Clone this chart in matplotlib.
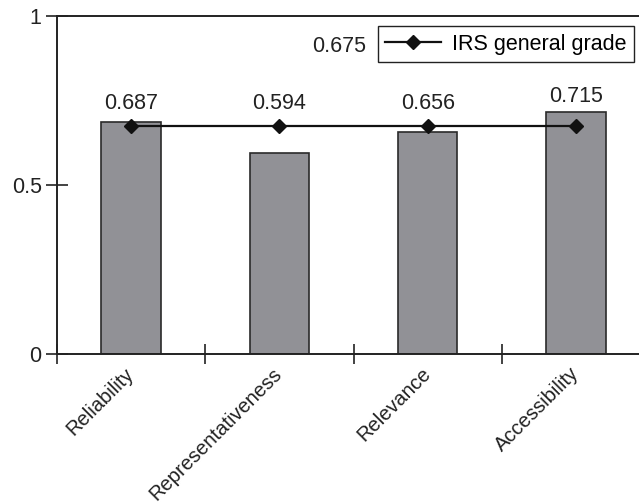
import matplotlib.pyplot as plt
import numpy as np

plt.rcParams['font.family'] = ['Liberation Sans', 'DejaVu Sans']

categories = ['Reliability', 'Representativeness', 'Relevance', 'Accessibility']
scores = [0.687, 0.594, 0.656, 0.715]
general_grade = 0.675
y_ticks = [0, 0.5, 1]
y_tick_labels = ['0', '0.5', '1']

fig = plt.figure(figsize=(6.39, 5.04), dpi=100)
# axes run a little past the right edge, so the right border is cut off
ax = fig.add_axes([57 / 639, 150 / 504, 593 / 639, 338 / 504])

x = np.arange(len(categories))
ax.bar(x, scores, width=0.4, color='#919196', edgecolor='#2a2a2a', linewidth=1.2, zorder=2)
ax.plot(x, [general_grade] * len(categories), color='#111111', lw=1.6,
        marker='D', markersize=7, markerfacecolor='#111111', zorder=3,
        label='IRS general grade')

for xi, v in zip(x, scores):
    ax.text(xi, max(v + 0.015, general_grade + 0.035), f'{v:.3f}', ha='center', va='bottom',
            fontsize=15.5, color='#222222')

ax.set_xlim(-0.5, len(categories) - 0.5)
ax.set_ylim(0, 1)
ax.set_yticks(y_ticks)
ax.set_yticklabels(y_tick_labels, fontsize=15.5, color='#222222')

ax.set_xticks(x)
ax.set_xticklabels(categories, rotation=45, ha='right', va='center', rotation_mode='anchor',
                   fontsize=14.5, color='#222222')
ax.tick_params(axis='x', which='major', length=0, pad=12)
ax.set_xticks(np.arange(len(categories) + 1) - 0.5, minor=True)
ax.tick_params(axis='x', which='minor', direction='inout', length=14, width=1.2, color='#222222')
ax.tick_params(axis='y', direction='inout', length=16, width=1.2, color='#222222', pad=3)

for s in ax.spines.values():
    s.set_linewidth(1.4)
    s.set_color('#222222')

leg = ax.legend(loc='upper right', bbox_to_anchor=(634 / 639, 1 - 26 / 504),
                bbox_transform=fig.transFigure, fancybox=False, framealpha=1,
                edgecolor='#222222', fontsize=15.5, handlelength=2.6,
                borderaxespad=0, borderpad=0.35, handletextpad=0.5)
leg.get_frame().set_linewidth(1.0)

fig.text(339 / 639, 1 - 47 / 504, f'{general_grade:.3f}', ha='center', va='center',
         fontsize=15.5, color='#222222')

fig.savefig('out.png', dpi=100)
